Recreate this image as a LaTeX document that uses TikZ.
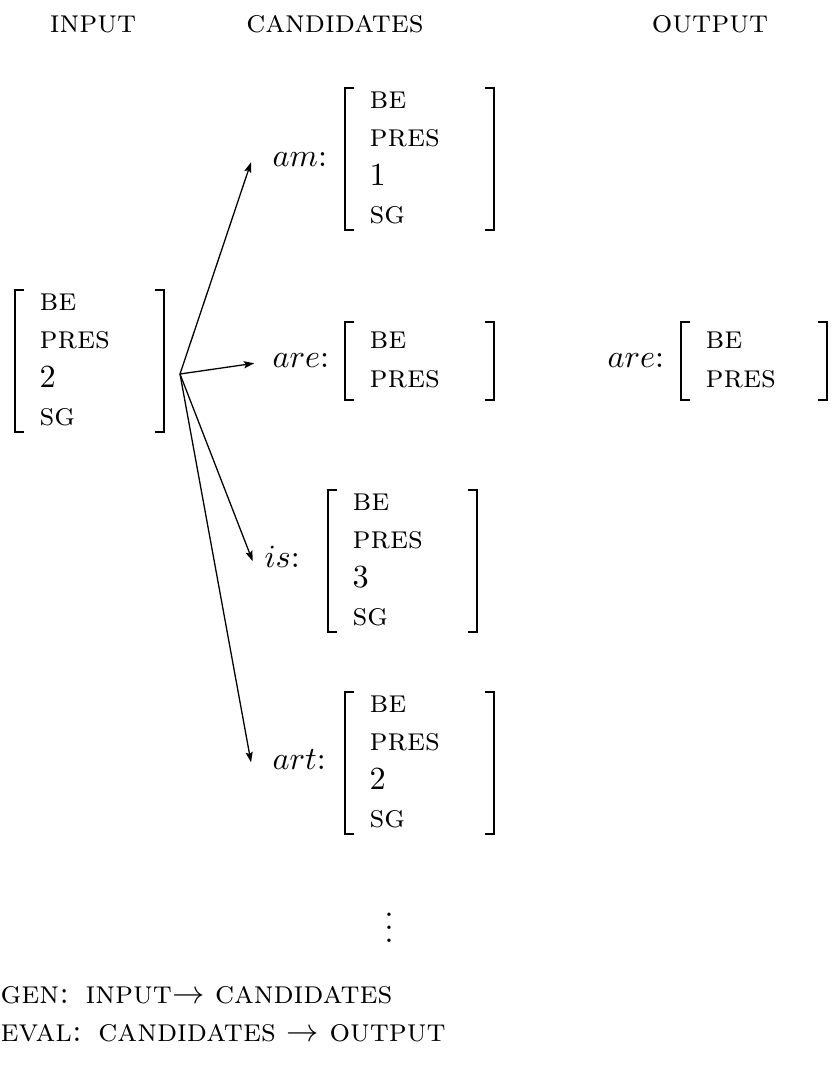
\documentclass[tikz,border=0pt]{standalone}
\usetikzlibrary{arrows.meta}
\begin{document}
\begin{tikzpicture}[x=0.31pt,y=-0.31pt,
  feat/.style={anchor=base west,inner sep=0pt},
  lbl/.style={anchor=base west,inner sep=0pt},
  head/.style={anchor=base,inner sep=0pt},
  foot/.style={anchor=base west,inner sep=0pt},
  brk/.style={line width=0.6pt},
  arr/.style={line width=0.4pt,
    -{Stealth[length=3.2pt,width=2.2pt,inset=0.6pt]}}]
\useasboundingbox (0,0) rectangle (833,1068);

% column headings
\node[head] (hin)  at (93,32)  {\textsc{input}};
\node[head] (hcan) at (335,32) {\textsc{candidates}};
\node[head] (hout) at (710,32) {\textsc{output}};

% input structure
\draw[brk] (24,290) -- (15,290) -- (15,432) -- (24,432);
\draw[brk] (155,290) -- (164,290) -- (164,432) -- (155,432);
\node[feat] (in1) at (39,310)   {\textsc{be}};
\node[feat] (in2) at (39,348.6) {\textsc{pres}};
\node[feat] (in3) at (39,387.2) {2};
\node[feat] (in4) at (39,425.8) {\textsc{sg}};
\coordinate (src) at (180,374);

% candidate: am
\node[lbl] (am) at (272,166) {$am$:};
\draw[brk] (354,88) -- (345,88) -- (345,230) -- (354,230);
\draw[brk] (485,88) -- (494,88) -- (494,230) -- (485,230);
\node[feat] (am1) at (369,108)   {\textsc{be}};
\node[feat] (am2) at (369,146.6) {\textsc{pres}};
\node[feat] (am3) at (369,185.2) {1};
\node[feat] (am4) at (369,223.8) {\textsc{sg}};

% candidate: are
\node[lbl] (are) at (272,367) {$are$:};
\draw[brk] (354,322) -- (345,322) -- (345,400) -- (354,400);
\draw[brk] (485,322) -- (494,322) -- (494,400) -- (485,400);
\node[feat] (are1) at (369,348) {\textsc{be}};
\node[feat] (are2) at (369,387) {\textsc{pres}};

% candidate: is
\node[lbl] (is) at (264,567) {$is$:};
\draw[brk] (337,490) -- (328,490) -- (328,632) -- (337,632);
\draw[brk] (468,490) -- (477,490) -- (477,632) -- (468,632);
\node[feat] (is1) at (352,510)   {\textsc{be}};
\node[feat] (is2) at (352,548.6) {\textsc{pres}};
\node[feat] (is3) at (352,587.2) {3};
\node[feat] (is4) at (352,625.8) {\textsc{sg}};

% candidate: art
\node[lbl] (art) at (272,769) {$art$:};
\draw[brk] (354,692) -- (345,692) -- (345,834) -- (354,834);
\draw[brk] (485,692) -- (494,692) -- (494,834) -- (485,834);
\node[feat] (art1) at (369,712)   {\textsc{be}};
\node[feat] (art2) at (369,750.6) {\textsc{pres}};
\node[feat] (art3) at (369,789.2) {2};
\node[feat] (art4) at (369,827.8) {\textsc{sg}};

\node[inner sep=0pt] (dots) at (389,918) {$\vdots$};

% output
\node[lbl] (out) at (607,367) {$are$:};
\draw[brk] (690,322) -- (681,322) -- (681,400) -- (690,400);
\draw[brk] (818,322) -- (827,322) -- (827,400) -- (818,400);
\node[feat] (out1) at (705,348) {\textsc{be}};
\node[feat] (out2) at (705,387) {\textsc{pres}};

% arrow ends, a little to the left of each candidate label
\coordinate (tam)  at ([xshift=-6.5pt,yshift=-1pt]am.west);
\coordinate (tare) at ([xshift=-5.5pt,yshift=-1pt]are.west);
\coordinate (tis)  at ([xshift=-3.5pt,yshift=-1.5pt]is.west);
\coordinate (tart) at ([xshift=-6.5pt,yshift=-1pt]art.west);

% generator arrows
\draw[arr] (src) -- (tam);
\draw[arr] (src) -- (tare);
\draw[arr] (src) -- (tis);
\draw[arr] (src) -- (tart);

% definitions
\node[foot] (gen)  at (0,1003) {\textsc{gen: input}$\rightarrow$ \textsc{candidates}};
\node[foot] (eval) at (0,1041) {\textsc{eval: candidates} $\rightarrow$ \textsc{output}};
\end{tikzpicture}
\end{document}
